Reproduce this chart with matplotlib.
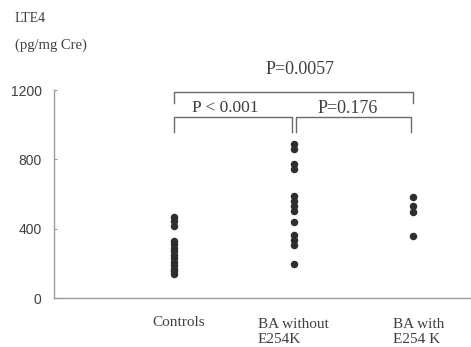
import matplotlib
matplotlib.use("Agg")
import matplotlib.pyplot as plt
import matplotlib.transforms as mtransforms

# LTE4 values (pg/mg Cre) per group
controls = [470, 445, 415, 330, 310, 290, 270, 250, 230, 210, 190, 170, 155, 140]
ba_without = [890, 860, 775, 745, 590, 560, 530, 500, 440, 365, 335, 305, 195]
ba_with = [580, 530, 495, 360]

groups = [controls, ba_without, ba_with]
positions = [1, 2, 3]
yticks = [0, 400, 800, 1200]

# comparisons: (left group, right group, bar height, leg bottom)
comparisons = [
    (1, 3, 1190, 1125),
    (1, 1.985, 1045, 958),
    (2.02, 2.98, 1045, 958),
]

text_color = "#3f3f3f"
serif = ["Liberation Serif", "DejaVu Serif"]

fig = plt.figure(figsize=(4.71, 3.47), dpi=100)
ax = fig.add_axes([54 / 471, 49 / 347, 417 / 471, 208 / 347])

for x, vals in zip(positions, groups):
    ax.plot([x] * len(vals), vals, "o", color="#2e2e2e", markersize=5.4,
            markeredgewidth=0, clip_on=False)

ax.set_xlim(-0.005, 3.485)
ax.set_ylim(0, 1200)
ax.set_yticks(yticks)
ax.set_yticklabels([str(v) for v in yticks], fontfamily="Liberation Sans",
                   fontsize=10, color=text_color)
ax.tick_params(axis="y", direction="in", length=2.5, width=0.8,
               color="#999999", pad=9)
ax.set_xticks([])

for side in ("top", "right"):
    ax.spines[side].set_visible(False)
for side in ("left", "bottom"):
    ax.spines[side].set_color("#9a9a9a")
    ax.spines[side].set_linewidth(1.0)

# significance brackets
for x0, x1, top, bottom in comparisons:
    ax.plot([x0, x0, x1, x1], [bottom, top, top, bottom], color="#6a6a6a",
            linewidth=1.0, clip_on=False)
ax.text(2.05, 1320, "P=0.0057", ha="center", va="center", fontsize=13,
        fontfamily=serif, color=text_color)
ax.text(1.43, 1096, "P < 0.001", ha="center", va="center", fontsize=12.5,
        fontfamily=serif, color=text_color)
ax.text(2.45, 1096, "P=0.176", ha="center", va="center", fontsize=13,
        fontfamily=serif, color=text_color)

# group labels under the axis
trans = mtransforms.blended_transform_factory(ax.transData, fig.transFigure)
ax.text(1.04, 1 - 323 / 347, "Controls", transform=trans, ha="center",
        va="center", fontsize=11, fontfamily=serif, color=text_color)
ax.text(1.70, 1 - 332 / 347, "BA without\nE254K", transform=trans, ha="left",
        va="center", fontsize=11, fontfamily=serif, color=text_color,
        linespacing=1.25)
ax.text(2.83, 1 - 332 / 347, "BA with\nE254 K", transform=trans, ha="left",
        va="center", fontsize=11, fontfamily=serif, color=text_color,
        linespacing=1.25)

# axis title
fig.text(15 / 471, 1 - 18 / 347, "LTE4", ha="left", va="center", fontsize=10,
         fontfamily=serif, color=text_color)
fig.text(15 / 471, 1 - 45 / 347, "(pg/mg Cre)", ha="left", va="center",
         fontsize=10.5, fontfamily=serif, color=text_color)

fig.savefig("out.png", dpi=100)
